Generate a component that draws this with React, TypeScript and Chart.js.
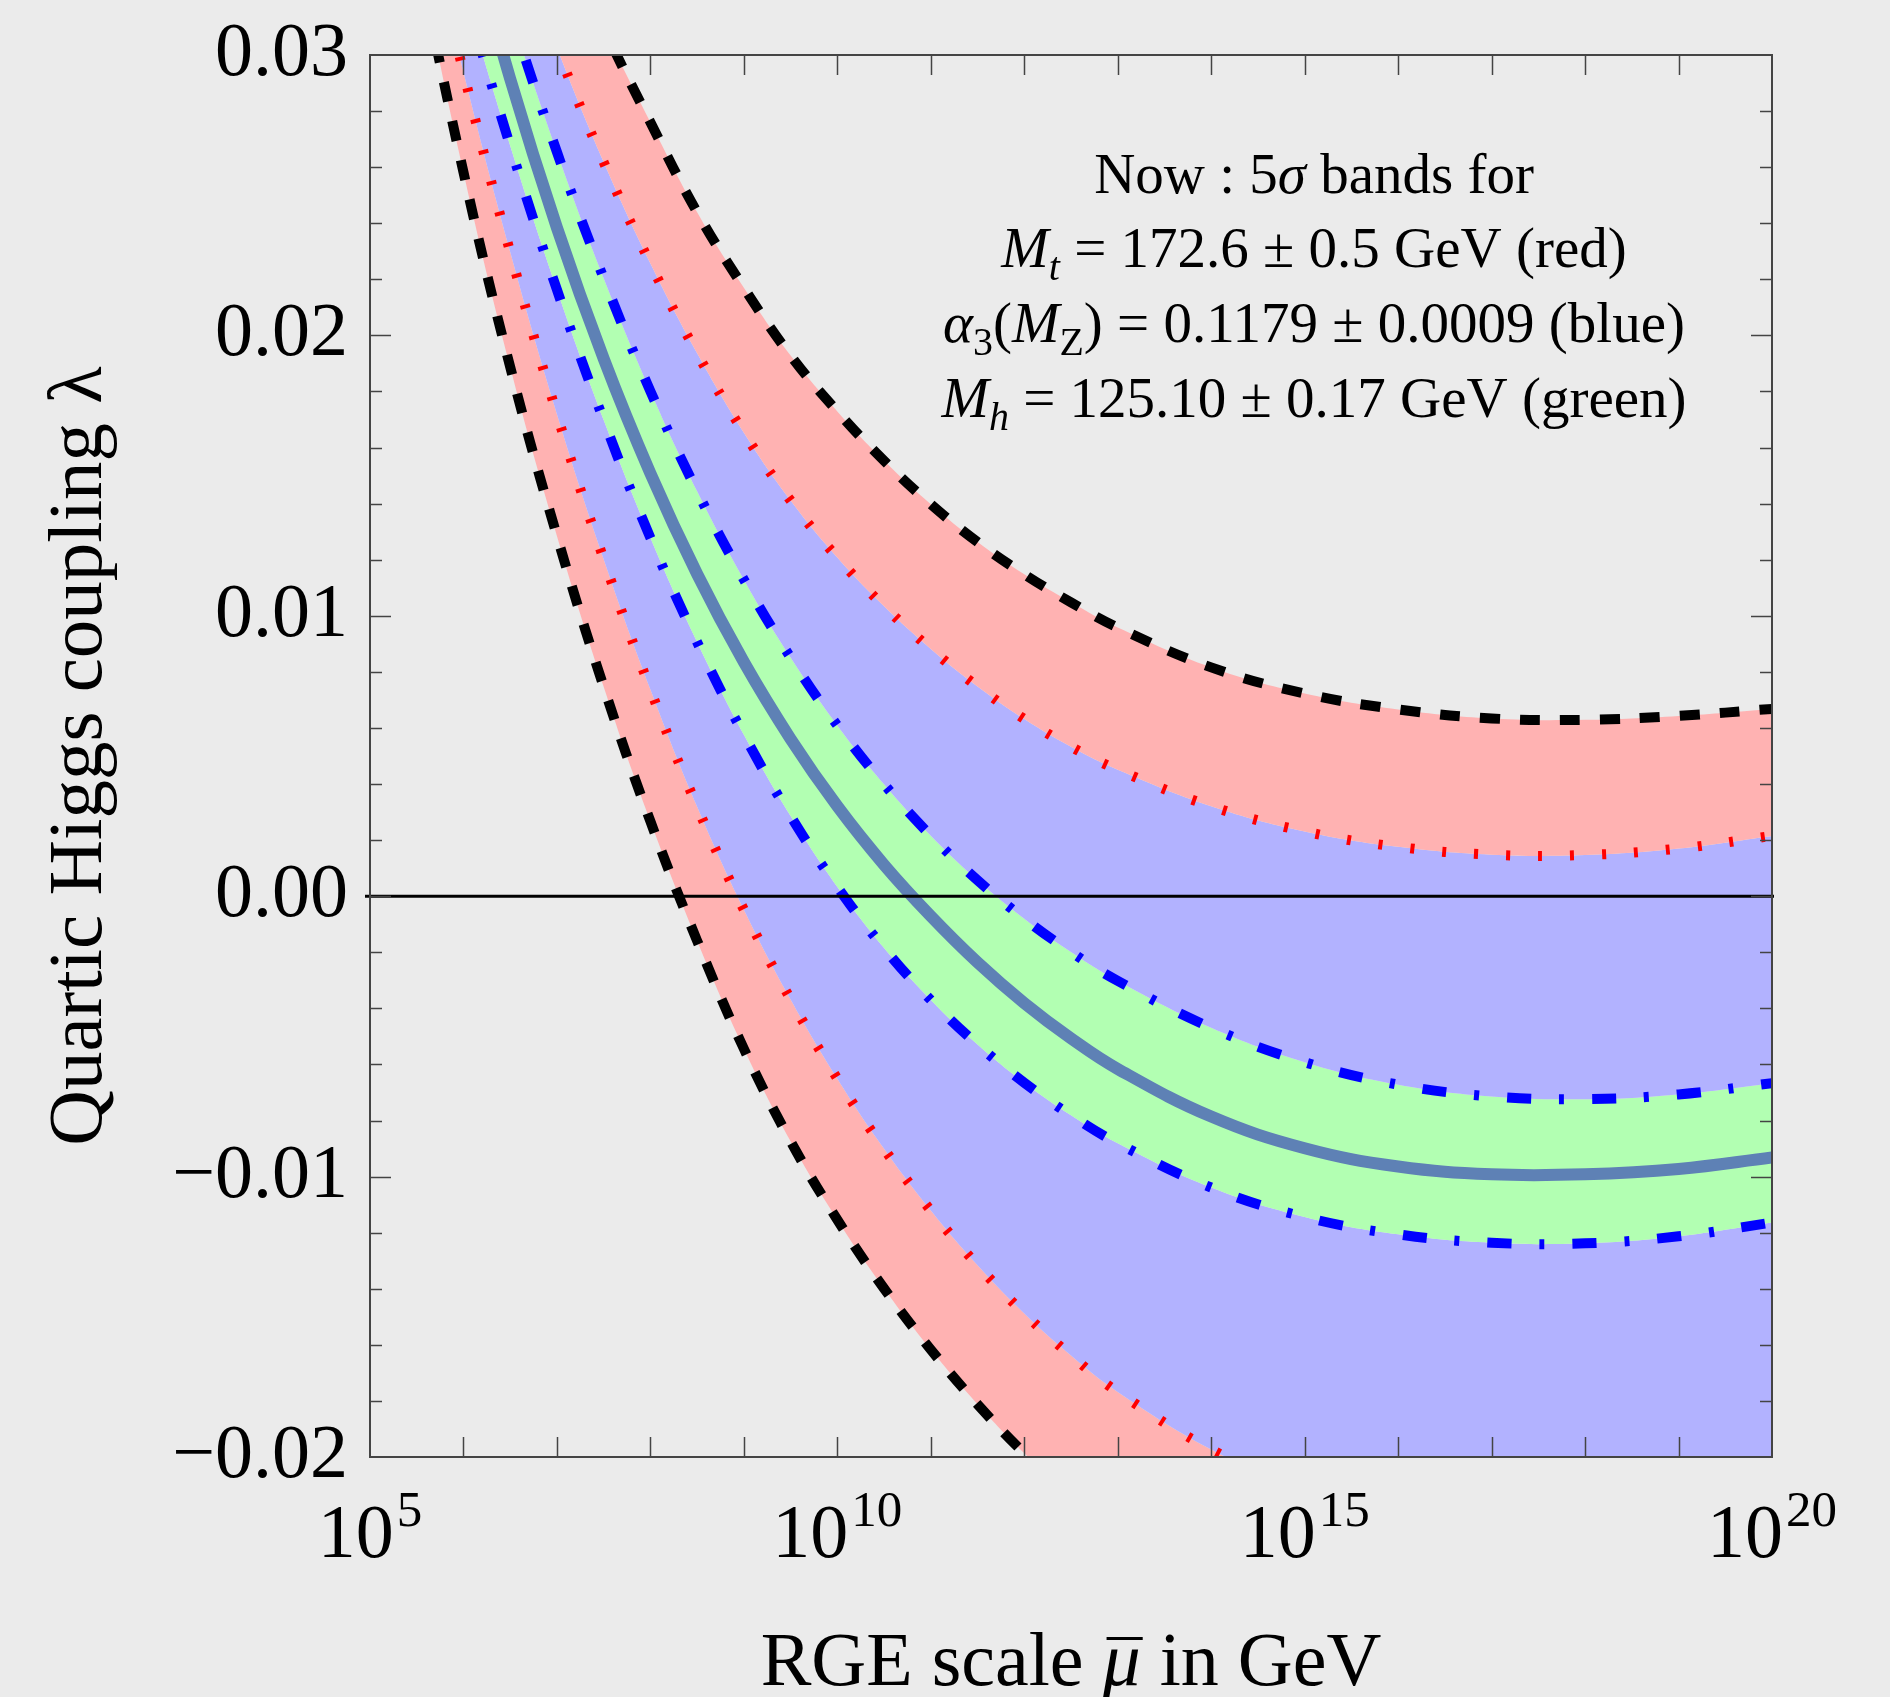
import React, { useEffect, useRef } from "react";
import { Chart, registerables } from "chart.js";

Chart.register(...registerables);

// x = log10(mu / GeV)
const logMu = [5, 5.5, 6, 6.5, 7, 7.5, 8, 8.5, 9, 9.5, 10, 10.5, 11, 11.5, 12, 12.5, 13, 14, 15, 16, 17, 18, 19, 20];

// black dashed, upper edge of the Mt band
const blackUpper = [0.05436, 0.04878, 0.04366, 0.03898, 0.03476, 0.03098, 0.0276, 0.02439, 0.0217, 0.01928, 0.01729, 0.01553, 0.01398, 0.01263, 0.01148, 0.01048, 0.00958, 0.00816, 0.00723, 0.00666, 0.00634, 0.00629, 0.00643, 0.00668];
// red dotted, upper
const redUpper = [0.05106, 0.04519, 0.03976, 0.03479, 0.03026, 0.02618, 0.02256, 0.01936, 0.01653, 0.01411, 0.01208, 0.01034, 0.00882, 0.00748, 0.00632, 0.00533, 0.00451, 0.00321, 0.00231, 0.00176, 0.00148, 0.00147, 0.0017, 0.00215];
// blue dash-dot, upper
const blueUpper = [0.05029, 0.04339, 0.03716, 0.03156, 0.02654, 0.02204, 0.01801, 0.01444, 0.01129, 0.00851, 0.00609, 0.00399, 0.00216, 0.00057, -0.0008, -0.00199, -0.00302, -0.00469, -0.00592, -0.00672, -0.00714, -0.00724, -0.00707, -0.00667];
// central value (solid)
const central = [0.04988, 0.04207, 0.03519, 0.02915, 0.02384, 0.01917, 0.01508, 0.01149, 0.00835, 0.00561, 0.00321, 0.00112, -0.00071, -0.00236, -0.00381, -0.00507, -0.00616, -0.00786, -0.00899, -0.00964, -0.00992, -0.00992, -0.00973, -0.00932];
// blue dash-dot, lower
const blueLower = [0.04543, 0.03861, 0.03241, 0.02676, 0.02163, 0.01698, 0.01278, 0.00906, 0.00576, 0.00286, 0.00033, -0.00185, -0.0037, -0.00529, -0.00665, -0.00781, -0.00881, -0.01039, -0.01144, -0.01206, -0.01236, -0.01238, -0.01213, -0.01164];
// red dotted, lower
const redLower = [0.04442, 0.03652, 0.02939, 0.02297, 0.01719, 0.01202, 0.00737, 0.00319, -0.00048, -0.00368, -0.00651, -0.00901, -0.01121, -0.01316, -0.01488, -0.01638, -0.01768, -0.01973, -0.02118, -0.02213, -0.02263, -0.02278, -0.02263, -0.02218];
// black dashed, lower
const blackLower = [0.04305, 0.03387, 0.02582, 0.01887, 0.01285, 0.00747, 0.00267, -0.00159, -0.00544, -0.00874, -0.01154, -0.01399, -0.01617, -0.01812, -0.01987, -0.02144, -0.02287, -0.02532, -0.02722, -0.02857, -0.02942, -0.02977, -0.02967, -0.02922];

const xTickValues = [5, 10, 15, 20];
const xTickExponents = ["5", "10", "15", "20"];
const yTickValues = [0.03, 0.02, 0.01, 0, -0.01, -0.02];
const yTickLabels = ["0.03", "0.02", "0.01", "0.00", "\u22120.01", "\u22120.02"];

const xTitleParts = ["RGE scale ", "\u03bc", " in GeV"];
const yTitle = "Quartic Higgs coupling \u03bb";

type Seg = { t: string; it?: boolean; sub?: boolean };
const noteLines: Seg[][] = [
  [{ t: "Now : 5" }, { t: "\u03c3", it: true }, { t: " bands for" }],
  [{ t: "M", it: true }, { t: "t", it: true, sub: true }, { t: " = 172.6 \u00b1 0.5 GeV (red)" }],
  [{ t: "\u03b1", it: true }, { t: "3", sub: true }, { t: "(" }, { t: "M", it: true }, { t: "Z", sub: true }, { t: ") = 0.1179 \u00b1 0.0009 (blue)" }],
  [{ t: "M", it: true }, { t: "h", it: true, sub: true }, { t: " = 125.10 \u00b1 0.17 GeV (green)" }],
];

const FONT = "'Liberation Serif', 'Times New Roman', serif";
const BG = "#ebebeb";
const PINK = "rgb(255,178,178)";
const LBLUE = "rgb(178,178,255)";
const LGREEN = "rgb(178,255,178)";

function drawRich(ctx: CanvasRenderingContext2D, segs: Seg[], cx: number, base: number, size: number) {
  const subSize = size * 0.7;
  const fontFor = (s: Seg) => `${s.it ? "italic " : ""}${s.sub ? subSize : size}px ${FONT}`;
  let w = 0;
  const widths: number[] = [];
  for (const s of segs) {
    ctx.font = fontFor(s);
    const m = ctx.measureText(s.t).width;
    widths.push(m);
    w += m;
  }
  let x = cx - w / 2;
  ctx.textAlign = "left";
  ctx.textBaseline = "alphabetic";
  segs.forEach((s, i) => {
    ctx.font = fontFor(s);
    ctx.fillText(s.t, x, base + (s.sub ? size * 0.22 : 0));
    x += widths[i];
  });
}

const decorPlugin = {
  id: "decor",
  beforeDraw(chart: any) {
    const ctx = chart.ctx as CanvasRenderingContext2D;
    ctx.save();
    ctx.fillStyle = BG;
    ctx.fillRect(0, 0, chart.width, chart.height);
    ctx.restore();
  },
  afterDatasetsDraw(chart: any) {
    const ctx = chart.ctx as CanvasRenderingContext2D;
    const xs = chart.scales.x;
    const ys = chart.scales.y;
    const a = chart.chartArea;
    ctx.save();

    // zero line
    const y0 = ys.getPixelForValue(0);
    ctx.strokeStyle = "#000";
    ctx.lineWidth = 3;
    ctx.beginPath();
    ctx.moveTo(a.left - 5, y0);
    ctx.lineTo(a.right + 2, y0);
    ctx.stroke();

    // frame
    ctx.strokeStyle = "#444";
    ctx.lineWidth = 2;
    ctx.strokeRect(a.left, a.top, a.right - a.left, a.bottom - a.top);

    // inward ticks
    ctx.lineWidth = 1.5;
    ctx.beginPath();
    for (let k = 6; k <= 19; k++) {
      const px = Math.round(xs.getPixelForValue(k)) + 0.5;
      ctx.moveTo(px, a.bottom);
      ctx.lineTo(px, a.bottom - 20);
      ctx.moveTo(px, a.top);
      ctx.lineTo(px, a.top + 20);
    }
    for (let k = -9; k <= 14; k++) {
      const v = k * 0.002;
      const py = Math.round(ys.getPixelForValue(v)) + 0.5;
      const len = k % 5 === 0 ? 21 : 12;
      ctx.moveTo(a.left, py);
      ctx.lineTo(a.left + len, py);
      ctx.moveTo(a.right, py);
      ctx.lineTo(a.right - len, py);
    }
    ctx.stroke();

    ctx.fillStyle = "#000";
    // y tick labels
    ctx.font = `76px ${FONT}`;
    ctx.textAlign = "right";
    ctx.textBaseline = "alphabetic";
    yTickValues.forEach((v, i) => {
      ctx.fillText(yTickLabels[i], a.left - 22, ys.getPixelForValue(v) + 20);
    });

    // x tick labels 10^n
    xTickValues.forEach((v, i) => {
      const cx = xs.getPixelForValue(v);
      ctx.font = `76px ${FONT}`;
      const wb = ctx.measureText("10").width;
      ctx.font = `51px ${FONT}`;
      const we = ctx.measureText(xTickExponents[i]).width;
      const left = cx - (wb + we + 3) / 2;
      const base = a.bottom + 100;
      ctx.textAlign = "left";
      ctx.font = `76px ${FONT}`;
      ctx.fillText("10", left, base);
      ctx.font = `51px ${FONT}`;
      ctx.fillText(xTickExponents[i], left + wb + 3, base - 31);
    });

    // x axis title
    {
      const size = 76;
      const segs: Seg[] = [{ t: xTitleParts[0] }, { t: xTitleParts[1], it: true }, { t: xTitleParts[2] }];
      const cx = (a.left + a.right) / 2;
      const base = 1685;
      let w = 0;
      const widths: number[] = [];
      for (const s of segs) {
        ctx.font = `${s.it ? "italic " : ""}${size}px ${FONT}`;
        const m = ctx.measureText(s.t).width;
        widths.push(m);
        w += m;
      }
      let x = cx - w / 2;
      segs.forEach((s, i) => {
        ctx.font = `${s.it ? "italic " : ""}${size}px ${FONT}`;
        ctx.fillText(s.t, x, base);
        if (s.it) {
          ctx.fillRect(x + 4, base - 48, widths[i] - 2, 3);
        }
        x += widths[i];
      });
    }

    // y axis title
    ctx.save();
    ctx.translate(101, (a.top + a.bottom) / 2);
    ctx.rotate(-Math.PI / 2);
    ctx.textAlign = "center";
    ctx.font = `77px ${FONT}`;
    ctx.fillText(yTitle, 0, 0);
    ctx.restore();

    // annotation
    const bases = [193, 267, 342, 417];
    noteLines.forEach((segs, i) => drawRich(ctx, segs, 1314, bases[i], 57));

    ctx.restore();
  },
};

export default function App() {
  const ref = useRef<HTMLCanvasElement>(null);
  useEffect(() => {
    const canvas = ref.current;
    if (!canvas) return;
    const mk = (vals: number[]) => logMu.map((x, i) => ({ x, y: vals[i] }));
    const common = {
      pointRadius: 0,
      pointHoverRadius: 0,
      tension: 0.4,
      clip: 0,
      borderCapStyle: "butt" as const,
      borderJoinStyle: "round" as const,
    };
    const blackDash = [20, 20];
    const redDot = [4, 28];
    const blueDashDot = [24, 28, 5, 28];
    const chart = new Chart(canvas, {
      type: "line",
      data: {
        datasets: [
          { ...common, label: "Mt low", data: mk(blackUpper), borderColor: "#000", borderWidth: 10, borderDash: blackDash, fill: "+1", backgroundColor: PINK },
          { ...common, label: "red up", data: mk(redUpper), borderColor: "#ff0000", borderWidth: 10, borderDash: redDot, fill: "+1", backgroundColor: LBLUE },
          { ...common, label: "blue up", data: mk(blueUpper), borderColor: "#0000ff", borderWidth: 10, borderDash: blueDashDot, fill: 4, backgroundColor: LGREEN },
          { ...common, label: "central", data: mk(central), borderColor: "#5e81b5", borderWidth: 12, fill: false },
          { ...common, label: "blue low", data: mk(blueLower), borderColor: "#0000ff", borderWidth: 10, borderDash: blueDashDot, fill: "+1", backgroundColor: LBLUE },
          { ...common, label: "red low", data: mk(redLower), borderColor: "#ff0000", borderWidth: 10, borderDash: redDot, fill: "+1", backgroundColor: PINK },
          { ...common, label: "Mt high", data: mk(blackLower), borderColor: "#000", borderWidth: 10, borderDash: blackDash, fill: false },
        ] as any,
      },
      options: {
        animation: false,
        responsive: false,
        events: [],
        layout: { padding: { left: 370, top: 55, right: 118, bottom: 240 } },
        scales: {
          x: { type: "linear", min: 5, max: 20, display: false },
          y: { type: "linear", min: -0.02, max: 0.03, display: false },
        },
        plugins: {
          legend: { display: false },
          tooltip: { enabled: false },
          filler: { drawTime: "beforeDatasetsDraw", propagate: false },
        } as any,
      },
      plugins: [decorPlugin as any],
    });
    return () => chart.destroy();
  }, []);
  return (
    <div style={{ position: "absolute", left: 0, top: 0, width: 1890, height: 1697, background: BG }}>
      <canvas ref={ref} width={1890} height={1697} style={{ display: "block" }} />
    </div>
  );
}
